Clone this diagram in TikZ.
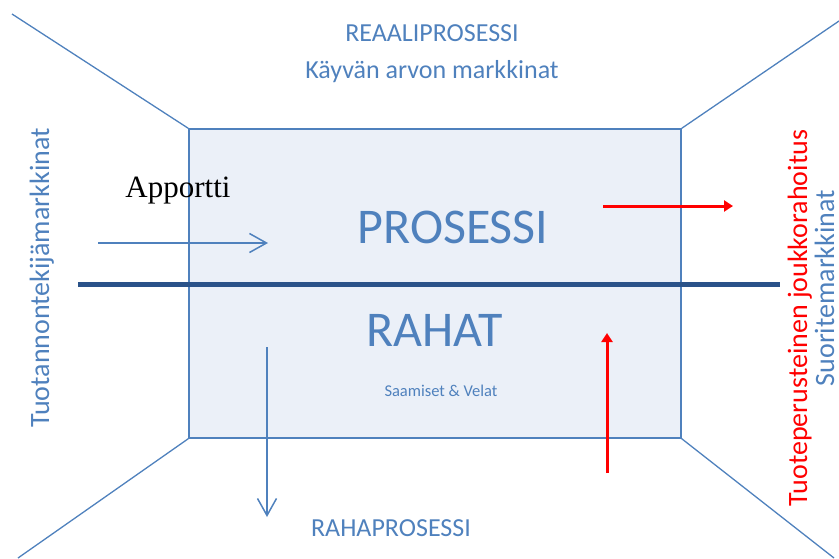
\documentclass[tikz,border=0pt]{standalone}
\usepackage{fontspec}
\setmainfont{Carlito}
\newfontfamily\apportfont{Liberation Serif}
\usepackage{xcolor}
\usepackage{tikz}
\usetikzlibrary{arrows.meta,positioning}
\definecolor{officeblue}{HTML}{4F81BD}
\definecolor{boxfill}{HTML}{EBF0F8}
\definecolor{navy}{HTML}{2A5289}
\tikzset{
    edge/.style={draw=officeblue, line width=1.3pt},
    market/.style={text=officeblue, font=\fontsize{26}{30}\selectfont, inner sep=0pt},
    big/.style={text=officeblue, font=\fontsize{50}{56}\selectfont, inner sep=0pt},
    side/.style={rotate=90, anchor=base, inner sep=0pt, font=\fontsize{28}{32}\selectfont},
    flow/.style={draw=officeblue, line width=1.5pt, -{Straight Barb[length=17pt,width=19pt,line width=1.5pt]}},
    hot/.style={draw=red, line width=3pt, -{Triangle[length=9pt,width=11pt]}}
}

\begin{document}
\begin{tikzpicture}[x=1pt, y=-1pt]
    \useasboundingbox (0,0) rectangle (839,558);
    \node (box) [edge, fill=boxfill, minimum width=492pt, minimum height=309pt, inner sep=0pt] at (435,283.5) {};

    % perspective edges out of the box corners
    \coordinate (tl) at (12,14);
    \coordinate (tr) at (839,21);
    \coordinate (bl) at (18,558);
    \coordinate (br) at (834,558);
    \draw [edge] (tl) -- (box.north west);
    \draw [edge] (box.north east) -- (tr);
    \draw [edge] (box.south west) -- (bl);
    \draw [edge] (box.south east) -- (br);

    % dividing line
    \coordinate (divl) at (78,284);
    \coordinate (divr) at (780,284);
    \draw [navy, line width=5pt] (divl) -- (divr);

    \node (reaali) [market] at (432,33) {REAALIPROSESSI};
    \node (kayva) [market, below=19pt of reaali] {Käyvän arvon markkinat};
    \node (prosessi) [big] at (453,227) {PROSESSI};
    \node (rahat) [big] at (435,330) {RAHAT};
    \node (velat) [text=officeblue, font=\fontsize{16.5}{20}\selectfont, inner sep=0pt] at (441,391) {Saamiset \& Velat};
    \node (rahap) [market] at (391,528) {RAHAPROSESSI};
    \node (apport) [anchor=base, inner sep=0pt, font=\apportfont\fontsize{31}{36}\selectfont] at (178,197) {Apportti};

    \node (tuotannon) [side, text=officeblue] at (49,278) {Tuotannontekijämarkkinat};
    \node (joukko) [side, text=red] at (807,318) {Tuoteperusteinen joukkorahoitus};
    \node (suorite) [side, text=officeblue] at (834,288) {Suoritemarkkinat};

    % flows
    \coordinate (a1) at (98,243);
    \coordinate (a2) at (268,243);
    \coordinate (b1) at (267,347);
    \coordinate (b2) at (267,517);
    \coordinate (c1) at (603,206);
    \coordinate (c2) at (733,206);
    \coordinate (d1) at (607,473);
    \coordinate (d2) at (607,333);
    \draw [flow] (a1) -- (a2);
    \draw [flow] (b1) -- (b2);
    \draw [hot] (c1) -- (c2);
    \draw [hot] (d1) -- (d2);
\end{tikzpicture}
\end{document}
